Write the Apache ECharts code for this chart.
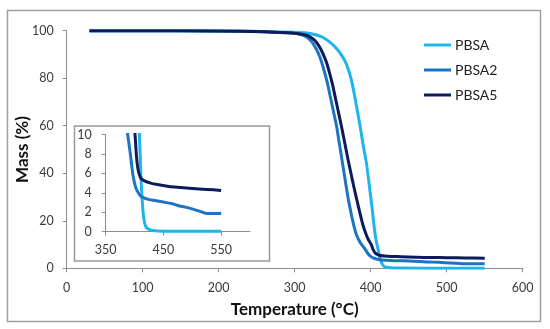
<!DOCTYPE html>
<html>
<head>
<meta charset="utf-8">
<script src="https://cdn.jsdelivr.net/npm/echarts@6/dist/echarts.min.js"></script>
<style>
html,body{margin:0;padding:0;background:#fff;}
#c{width:550px;height:329px;}
</style>
</head>
<body>
<div id="c"></div>
<script>
// ---- data (temperature °C, mass %) ----
const seriesNames = ['PBSA', 'PBSA2', 'PBSA5'];
const pbsaT = [30,100,200,260,300,320,335,345,355,362,368,374,378,382,386,390,394,397,400,402,404,406,408,410,411.5,413,414.5,416.5,419,423,430,440,500,550];
const pbsaM = [100,100,99.9,99.7,99.3,98.8,97.5,95.5,92.5,89.5,86,80,74,67,60,52,45,38,30,25,19,14,10.5,7.5,5,3.5,2.2,1.2,0.6,0.3,0.15,0.08,0.05,0.05];
const pbsa2T = [30,100,200,260,290,305,315,322,328,333,338,343,347,351,355,358,361,364,367,370,373,376,379,382,386,389,392.7,396.8,400,403,406.5,410,415,425,435,450,464,475,490,505,518,525,550];
const pbsa2M = [100,100,99.9,99.6,99.1,98.6,97.5,95.5,92.5,89,84,78,72,66,60,54,48,42,36,30,25,20.5,16.5,13.5,11,9.6,8,6,5,4.4,4,3.7,3.5,3.3,3.2,3.05,2.9,2.7,2.5,2.25,2.0,1.88,1.88];
const pbsa5T = [30,100,200,260,290,308,318,326,332,337,342,346,350,354,358,362,366,370,374,378,382,386,390,394,397,400.8,403,405,407.6,411,418,428,440,460,480,500,525,550];
const pbsa5M = [100,100,99.9,99.6,99.1,98.6,97.8,96,93.5,90.5,86.5,82,77,71,65,59,52.5,46,40,34,28.5,23,18,14.2,12,10,8,6.8,6,5.5,5.2,5.0,4.85,4.65,4.55,4.45,4.35,4.25];
const mainXTicks = [0,100,200,300,400,500,600];
const mainYTicks = [0,20,40,60,80,100];
const insetXTicks = [350,450,550];
const insetYTicks = [0,2,4,6,8,10];

const colors = ['#1FB4EC', '#1C74C2', '#0B1B5C'];
const pairs = (t, m) => t.map((v, i) => [v, m[i]]);
const dataSets = [pairs(pbsaT, pbsaM), pairs(pbsa2T, pbsa2M), pairs(pbsa5T, pbsa5M)];

const FONT = 'Lato';
const axisGray = '#8c8c8c';
const labelColor = '#3a3a3a';

const chart = echarts.init(document.getElementById('c'), null, {renderer: 'canvas'});

const series = [];
seriesNames.forEach((n, i) => {
  series.push({
    name: n, type: 'line', xAxisIndex: 0, yAxisIndex: 0,
    data: dataSets[i], showSymbol: false, symbol: 'none', smooth: 0.25,
    color: colors[i], lineStyle: {width: 3, color: colors[i], join: 'round'},
    animation: false, z: 3
  });
});
seriesNames.forEach((n, i) => {
  series.push({
    name: n, type: 'line', xAxisIndex: 1, yAxisIndex: 1,
    data: dataSets[i], showSymbol: false, symbol: 'none', clip: true, smooth: 0.25,
    color: colors[i], lineStyle: {width: 3, color: colors[i], join: 'round'},
    animation: false, z: 5
  });
});

chart.setOption({
  backgroundColor: '#fff',
  animation: false,
  textStyle: {fontFamily: FONT},
  graphic: [
    {type: 'rect', z: -10, shape: {x: 7.5, y: 10.5, width: 533, height: 311},
     style: {fill: 'none', stroke: '#a0a0a0', lineWidth: 1.5}},
    {type: 'rect', z: -10, shape: {x: 74.5, y: 126, width: 195, height: 135},
     style: {fill: 'none', stroke: '#9a9a9a', lineWidth: 1.5}}
  ],
  legend: {
    orient: 'vertical', left: 419, top: 33,
    icon: 'rect', itemWidth: 27, itemHeight: 3, itemGap: 11,
    data: seriesNames,
    textStyle: {fontFamily: FONT, fontSize: 14, color: '#222', padding: [0,0,0,-1]}
  },
  grid: [
    {left: 66.7, right: 27.3, top: 30.7, bottom: 60.7, containLabel: false},
    {left: 105.7, right: 300, top: 134.5, bottom: 97.3, containLabel: false}
  ],
  xAxis: [
    {type: 'value', gridIndex: 0, min: 0, max: 600, interval: 100,
     name: 'Temperature (°C)', nameLocation: 'middle', nameGap: 33, nameMoveOverlap: false,
     nameTextStyle: {fontFamily: FONT, fontSize: 17, fontWeight: 'bold', color: '#111'},
     axisLine: {show: true, lineStyle: {color: axisGray, width: 1}},
     axisTick: {show: true, inside: false, length: 4, lineStyle: {color: axisGray}, customValues: mainXTicks},
     axisLabel: {fontFamily: FONT, fontSize: 12.5, color: labelColor, margin: 13, customValues: mainXTicks},
     splitLine: {show: false}},
    {type: 'value', gridIndex: 1, min: 350, max: 600, interval: 50,
     axisLine: {show: true, lineStyle: {color: axisGray, width: 1}},
     axisTick: {show: true, length: 4, lineStyle: {color: axisGray}, customValues: insetXTicks},
     axisLabel: {fontFamily: FONT, fontSize: 12.5, color: labelColor, margin: 12, customValues: insetXTicks},
     splitLine: {show: false}}
  ],
  yAxis: [
    {type: 'value', gridIndex: 0, min: 0, max: 100, interval: 20,
     name: 'Mass (%)', nameLocation: 'middle', nameGap: 36, nameMoveOverlap: false,
     nameTextStyle: {fontFamily: FONT, fontSize: 17, fontWeight: 'bold', color: '#111'},
     axisLine: {show: true, lineStyle: {color: axisGray, width: 1}},
     axisTick: {show: true, length: 4, lineStyle: {color: axisGray}, customValues: mainYTicks},
     axisLabel: {fontFamily: FONT, fontSize: 12.5, color: labelColor, margin: 13, customValues: mainYTicks},
     splitLine: {show: false}},
    {type: 'value', gridIndex: 1, min: 0, max: 10, interval: 2,
     axisLine: {show: true, lineStyle: {color: axisGray, width: 1}},
     axisTick: {show: true, length: 4, lineStyle: {color: axisGray}, customValues: insetYTicks},
     axisLabel: {fontFamily: FONT, fontSize: 12.5, color: labelColor, margin: 14, customValues: insetYTicks},
     splitLine: {show: false}}
  ],
  series: series
});
</script>
</body>
</html>
